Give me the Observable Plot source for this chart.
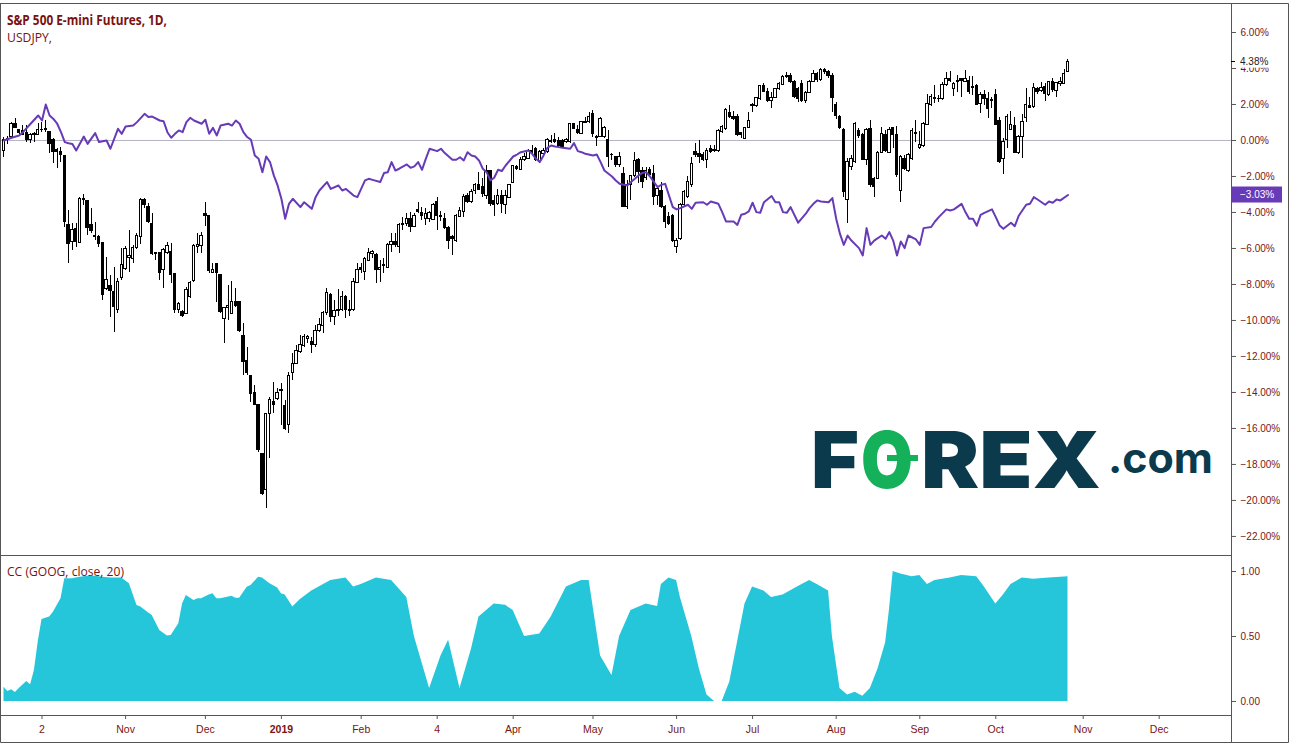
<!DOCTYPE html>
<html><head><meta charset="utf-8">
<script src="https://cdn.jsdelivr.net/npm/d3@7"></script>
<script src="https://cdn.jsdelivr.net/npm/@observablehq/plot@0.6"></script>
<style>
html,body{margin:0;padding:0;background:#fff;overflow:hidden;}
#wrap{position:relative;width:1295px;height:749px;overflow:hidden;background:#fff;}
#wrap svg{display:block;position:absolute;left:0;}
</style></head><body><div id="wrap"></div>
<script>
// ---------- DATA (percent change vs first bar) ----------
const spOpen = [
-0.56,0.0,0.19,0.93,0.59,0.52,0.41,0.0,0.28,0.31,
0.56,0.56,0.46,0.04,-0.52,-0.65,-0.89,-4.67,-5.65,-4.91,
-5.7,-3.3,-3.37,-4.72,-5.28,-5.37,-5.7,-8.24,-8.06,-8.43,
-9.44,-7.65,-7.13,-6.52,-6.57,-5.96,-5.37,-3.33,-3.7,-4.63,
-6.24,-6.24,-7.22,-6.26,-6.2,-7.44,-9.44,-9.54,-9.63,-8.7,
-7.81,-5.93,-5.87,-4.07,-4.22,-7.35,-6.85,-7.5,-9.91,-9.3,
-9.63,-8.96,-9.0,-10.89,-12.26,-13.11,-14.02,-14.72,-17.41,-19.41,
-15.22,-14.54,-14.35,-13.93,-14.78,-15.83,-12.93,-12.41,-11.76,-11.44,
-11.02,-11.2,-11.39,-10.56,-10.3,-9.6,-8.6,-9.8,-9.5,-9.4,
-8.7,-9.4,-9.4,-7.92,-7.09,-7.31,-6.67,-6.29,-6.39,-7.22,
-7.0,-7.07,-5.78,-5.65,-5.93,-4.67,-4.63,-4.35,-4.81,-3.89,
-4.02,-4.35,-4.35,-4.41,-3.43,-4.22,-4.35,-4.85,-5.37,-5.59,
-4.26,-3.98,-3.11,-3.43,-2.78,-2.46,-2.56,-3.06,-1.70,-3.37,
-3.52,-3.06,-3.61,-3.19,-2.37,-1.48,-1.63,-1.11,-1.02,-0.65,
-0.46,-1.15,-0.74,-0.65,-0.09,0.0,-0.04,-0.04,-0.09,-0.09,
0.89,0.59,0.37,0.96,1.02,1.48,0.19,0.19,0.19,0.0,
-0.78,-0.93,-1.39,-1.85,-3.70,-2.5,-2.0,-1.11,-1.70,-2.07,
-1.63,-1.85,-3.06,-2.78,-3.7,-4.26,-4.2,-5.93,-5.46,-3.61,
-3.15,-2.5,-0.65,-0.74,-0.8,-1.06,-0.5,-0.61,-0.56,0.46,
0.65,1.54,1.33,1.30,0.43,0.09,0.69,1.98,1.91,2.28,
3.02,2.72,2.22,2.35,2.87,3.09,3.52,3.57,3.24,2.87,
3.15,2.17,2.65,3.24,3.7,3.35,3.89,3.8,3.57,1.98,
1.30,0.61,-3.33,-1.5,-1.17,0.5,0.28,-1.06,0.65,-2.13,
-2.13,-0.69,0.32,-0.69,0.69,0.28,-2.78,-1.02,-1.67,-1.02,
0.43,-0.43,-0.31,0.87,1.98,2.35,2.28,2.28,3.09,3.39,
2.87,3.24,3.39,3.24,3.28,2.9,3.02,2.04,2.54,2.31,
2.22,2.5,1.06,-1.02,0.0,0.61,0.8,-0.69,0.22,1.24,
1.94,1.85,2.87,2.74,2.96,2.5,3.24,2.74,3.15,3.15,
3.8];
const spHigh = [
0.19,0.2,1.02,1.2,0.6,0.83,0.83,0.37,0.46,0.93,
1.02,1.11,0.46,0.09,-0.46,-0.41,-0.89,-3.89,-4.63,-4.59,
-3.19,-3.0,-3.33,-3.8,-4.54,-5.28,-5.65,-6.48,-7.5,-7.04,
-7.69,-6.02,-5.89,-5.0,-5.83,-5.19,-3.24,-3.24,-3.52,-4.04,
-6.2,-6.2,-6.02,-5.65,-5.7,-7.41,-8.98,-9.44,-8.15,-7.81,
-5.78,-5.19,-5.09,-3.43,-4.19,-6.85,-6.81,-7.44,-9.26,-8.06,
-7.81,-8.24,-8.96,-10.19,-11.52,-13.06,-13.61,-14.69,-17.37,-15.15,
-14.26,-13.43,-13.8,-13.52,-14.44,-12.87,-11.85,-11.39,-10.83,-10.78,
-10.83,-10.93,-10.28,-9.87,-9.5,-8.2,-8.5,-8.9,-8.3,-8.4,
-8.6,-8.9,-7.68,-6.85,-6.85,-6.48,-6.02,-6.11,-6.29,-6.67,
-6.57,-5.74,-5.19,-5.19,-4.59,-4.26,-4.07,-3.98,-4.07,-3.43,
-3.70,-3.80,-3.93,-3.52,-3.19,-3.93,-4.04,-4.78,-5.28,-4.11,
-3.70,-3.0,-2.96,-2.74,-2.37,-1.76,-2.13,-1.39,-1.67,-3.06,
-2.74,-2.78,-2.78,-2.46,-1.39,-1.39,-0.93,-0.74,-0.52,-0.28,
-0.37,-0.56,-0.46,0.09,0.28,0.37,0.19,0.04,0.09,0.96,
0.93,0.83,1.07,1.30,1.57,1.67,0.28,1.26,0.78,0.56,
-0.7,-0.89,-0.65,-1.52,-2.22,-1.94,-0.65,-1.02,-1.48,-1.52,
-1.48,-1.39,-2.59,-2.31,-3.61,-3.98,-4.13,-5.46,-3.52,-2.78,
-1.98,-0.93,-0.19,0.0,-0.65,-0.46,-0.28,-0.28,0.61,0.83,
1.76,1.94,1.61,1.43,0.46,0.74,1.54,2.04,2.41,3.06,
3.15,2.87,2.69,2.91,3.2,3.61,3.8,3.7,3.33,2.96,
3.33,2.72,3.33,3.89,3.8,4.02,4.0,3.89,3.7,2.13,
1.39,0.65,-1.02,-0.83,1.02,0.65,0.37,0.69,1.11,-2.04,
-0.61,0.74,0.56,0.74,0.74,0.8,-0.83,-0.83,-0.74,0.69,
1.11,0.5,1.02,2.54,2.54,3.05,2.5,3.2,3.8,3.83,
3.24,3.61,3.43,3.89,3.57,3.57,3.09,2.69,2.78,2.65,
2.41,2.83,1.3,0.09,1.43,1.61,1.3,0.28,1.43,2.87,
2.41,3.15,2.96,3.24,3.15,3.28,3.46,3.24,3.52,3.94,
4.5];
const spLow = [
-0.93,-0.2,0.09,0.65,0.35,0.28,-0.09,-0.19,-0.09,0.28,
0.46,0.46,-0.74,-1.3,-1.57,-1.2,-4.81,-6.85,-6.11,-5.93,
-5.74,-3.61,-5.28,-5.19,-5.56,-5.93,-8.89,-8.33,-9.81,-10.65,
-9.59,-7.78,-7.22,-7.31,-6.85,-6.07,-5.78,-3.8,-4.59,-6.39,
-6.67,-7.78,-8.24,-6.33,-7.93,-9.63,-9.59,-9.81,-9.67,-8.8,
-7.87,-6.3,-6.26,-4.78,-7.37,-7.41,-9.0,-9.59,-11.3,-10.0,
-9.67,-9.26,-10.65,-13.06,-13.06,-14.54,-14.72,-17.31,-19.72,-20.46,
-17.68,-15.15,-14.44,-15.83,-16.11,-16.3,-13.33,-12.44,-11.85,-11.52,
-11.3,-11.85,-11.48,-10.65,-10.7,-9.7,-10.1,-10.3,-9.8,-9.5,
-9.9,-9.8,-9.5,-7.96,-7.37,-7.78,-6.70,-6.57,-7.92,-7.87,
-7.41,-7.13,-6.2,-5.96,-6.26,-5.0,-4.78,-5.09,-4.85,-4.07,
-4.44,-4.72,-4.54,-4.44,-5.0,-4.48,-4.96,-6.07,-6.39,-5.65,
-4.30,-4.26,-3.52,-3.48,-3.0,-2.78,-3.15,-3.3,-3.67,-4.22,
-3.61,-4.07,-4.11,-3.24,-2.41,-1.67,-1.67,-1.15,-1.07,-0.83,
-1.15,-1.3,-0.83,-0.7,-0.15,-0.15,-0.41,-0.46,-0.15,-0.19,
0.59,0.33,0.33,0.93,0.96,0.19,-0.33,0.15,0.09,-1.48,
-1.11,-1.48,-1.48,-3.70,-3.85,-3.33,-2.07,-2.41,-2.69,-2.22,
-2.04,-3.61,-3.61,-3.8,-4.91,-4.72,-5.65,-6.3,-5.56,-3.7,
-3.2,-2.59,-0.93,-1.3,-1.17,-1.54,-0.74,-0.65,-0.65,0.37,
0.56,1.2,1.11,0.24,0.09,0.06,0.65,1.54,1.85,2.22,
2.65,2.09,1.8,2.31,2.78,3.05,3.46,3.15,2.31,2.13,
2.09,2.04,2.59,3.2,3.2,3.3,3.65,3.46,1.57,1.17,
0.61,-3.15,-4.63,-1.67,-1.3,0.13,-1.11,-1.39,-2.59,-3.15,
-2.17,-0.74,-0.65,-0.74,-0.46,-2.04,-3.43,-1.67,-1.76,-1.11,
-0.09,-0.5,-0.37,0.83,1.91,2.04,2.13,2.22,3.02,3.24,
2.46,2.65,2.41,3.2,2.54,2.5,1.94,1.48,1.94,1.2,
1.8,0.83,-1.3,-1.91,-0.46,0.56,-0.74,-0.8,-1.02,1.02,
1.76,1.8,2.54,2.65,2.17,2.46,2.65,2.41,3.02,3.09,
3.76];
const spClose = [
0.0,0.1,0.93,0.70,0.41,0.33,0.0,0.28,0.37,0.59,
0.59,0.65,-0.19,-0.65,-0.65,-0.83,-4.54,-5.74,-4.96,-5.65,
-3.24,-3.24,-4.85,-5.04,-5.37,-5.74,-8.61,-7.74,-8.39,-9.26,
-7.87,-6.94,-6.02,-6.44,-5.98,-5.28,-3.28,-3.56,-4.54,-6.33,
-6.33,-7.37,-6.11,-5.87,-7.5,-9.44,-9.07,-9.78,-8.33,-7.93,
-5.89,-5.78,-5.28,-4.22,-7.26,-7.22,-7.37,-9.54,-9.3,-9.22,
-8.96,-9.17,-10.59,-12.31,-12.93,-14.07,-14.69,-17.22,-19.67,-15.19,
-14.41,-14.69,-14.04,-13.89,-16.02,-13.11,-12.44,-11.67,-11.39,-10.93,
-10.93,-11.39,-10.56,-10.28,-9.6,-8.5,-9.8,-9.5,-9.4,-8.7,
-9.4,-9.5,-7.87,-7.22,-7.22,-6.57,-6.26,-6.2,-7.18,-7.09,
-6.94,-5.78,-5.65,-5.83,-4.67,-4.63,-4.35,-4.78,-4.17,-3.98,
-4.17,-4.07,-4.04,-3.61,-4.17,-4.26,-4.85,-5.59,-5.46,-4.22,
-3.94,-3.15,-3.43,-2.87,-2.46,-2.74,-3.0,-1.67,-3.52,-3.61,
-3.06,-3.52,-3.11,-2.5,-1.44,-1.57,-1.11,-0.93,-0.56,-0.56,
-1.11,-0.65,-0.56,0.0,-0.04,-0.09,-0.33,-0.37,0.0,0.93,
0.65,0.41,1.02,1.02,1.30,0.37,0.15,1.20,0.7,-0.93,
-0.83,-1.39,-0.93,-3.67,-2.5,-2.0,-1.15,-1.76,-2.31,-1.67,
-1.94,-3.15,-2.69,-3.7,-4.54,-4.63,-5.56,-5.61,-3.61,-2.87,
-2.31,-1.30,-0.83,-0.93,-1.06,-0.61,-0.65,-0.52,0.5,0.74,
1.67,1.30,1.2,0.32,0.28,0.69,1.11,1.91,2.35,3.02,
2.72,2.22,2.35,2.87,3.15,3.52,3.57,3.24,2.41,2.31,
2.17,2.65,3.24,3.7,3.35,3.89,3.83,3.57,2.35,1.35,
0.69,-2.87,-1.2,-1.02,0.93,0.24,-1.06,0.61,-2.5,-2.59,
-0.69,0.37,-0.56,0.61,0.32,-1.94,-0.93,-1.57,-0.83,0.5,
0.37,-0.24,0.93,2.04,2.41,2.28,2.31,3.09,3.39,3.28,
3.15,3.33,3.28,3.39,2.69,2.95,1.98,2.54,2.31,1.76,
2.26,0.87,-1.17,-0.06,1.3,0.87,-0.69,0.22,1.02,1.98,
1.8,2.91,2.69,2.93,2.59,3.24,2.78,3.2,3.24,3.7,
4.38];

// USDJPY % change, (bar index, value) vertices
const jpyBar = [0,2,4,5,7,9,10,11,12,13,14,15,16,17,18,19,21,22,24,25,27,28,30,31,32,34,35,37,38,39,41,42,43,44,45,46,47,48,49,50,52,53,54,55,56,57,59,60,61,62,63,64,65,66,67,68,69,70,71,72,73,74,75,76,78,79,81,82,83,85,86,88,89,90,92,93,95,96,97,99,100,101,102,103,104,106,107,108,109,110,111,112,114,115,116,118,119,120,121,122,123,124,125,126,127,128,129,130,131,132,134,135,136,138,139,140,141,142,143,144,145,146,147,149,150,151,152,153,155,156,157,158,160,161,162,164,165,166,167,168,169,170,172,173,174,176,177,178,180,181,182,184,185,186,188,189,190,192,193,194,195,196,197,198,199,200,202,203,204,205,206,207,209,211,212,213,214,215,217,218,219,220,221,222,223,225,226,227,228,229,231,232,233,234,235,236,237,238,240,241,242,244,245,246,248,249,250,252,253,254,255,256,257,258,260,261,262,263,265,266,267,269,270,271,272,274,275,276,277,278,280];
const jpyPct = [0.0,0.15,0.28,0.46,0.93,1.39,1.11,2.0,1.39,1.2,0.93,0.46,-0.09,-0.15,-0.19,-0.56,0.22,-0.19,0.41,-0.09,0.0,-0.46,0.65,0.37,0.78,0.83,1.02,1.48,1.30,1.33,1.11,1.07,0.46,0.15,0.37,0.56,0.46,1.02,1.26,1.11,0.93,1.15,0.37,0.70,0.28,0.83,0.93,0.83,1.11,0.93,0.46,0.19,0.04,-0.83,-1.02,-1.76,-0.89,-1.2,-1.94,-2.5,-3.24,-4.35,-3.52,-3.24,-3.7,-3.43,-3.8,-3.15,-2.78,-2.31,-2.69,-2.5,-2.78,-2.69,-3.06,-3.15,-2.22,-2.13,-2.19,-2.31,-1.81,-1.76,-1.2,-1.67,-1.57,-1.33,-1.52,-1.44,-1.2,-1.63,-1.02,-0.46,-0.59,-0.46,-0.7,-1.07,-1.07,-0.93,-1.11,-0.65,-0.83,-0.89,-1.11,-1.57,-1.76,-2.22,-2.07,-1.63,-1.7,-1.39,-0.89,-0.78,-0.65,-0.56,-0.74,-1.02,-1.2,-0.83,-0.41,-0.28,-0.33,-0.37,-0.41,-0.46,-0.15,-0.59,-0.65,-0.74,-0.83,-0.78,-1.2,-1.67,-2.0,-2.22,-2.41,-2.5,-2.31,-2.13,-1.94,-1.8,-1.76,-2.0,-2.59,-2.46,-2.41,-3.7,-3.83,-3.76,-3.57,-3.8,-3.46,-3.43,-3.57,-3.39,-3.52,-3.98,-4.5,-4.5,-4.69,-4.13,-4.07,-3.94,-3.46,-3.98,-4.02,-3.43,-3.09,-3.43,-3.43,-3.98,-4.02,-3.7,-4.57,-4.07,-3.76,-3.52,-3.33,-3.39,-3.43,-3.2,-4.35,-5.19,-5.8,-5.28,-5.56,-5.98,-6.39,-4.87,-5.8,-5.56,-5.28,-5.46,-5.09,-5.56,-6.39,-5.61,-5.98,-5.28,-5.5,-5.8,-4.87,-4.81,-4.5,-4.26,-3.83,-3.89,-3.83,-3.52,-3.98,-4.35,-4.35,-4.74,-4.13,-4.02,-3.83,-4.26,-4.72,-4.91,-4.57,-4.76,-4.2,-3.57,-3.52,-3.15,-3.28,-3.57,-3.39,-3.46,-3.28,-3.33,-3.03];

// CC (GOOG, close, 20) correlation coefficient, (bar index, value) vertices
const ccBar = [0,1,2,3,4,6,7,8,9,10,12,13,15,16,18,20,22,24,26,28,31,33,35,36,38,39,41,43,44,46,47,48,50,51,52,54,55,56,57,60,61,62,64,65,67,68,70,72,73,74,76,78,81,86,90,92,94,98,102,106,108,112,115,117,120,123,125,129,132,134,137,141,144,148,152,154,157,160,162,165,169,172,173,175,177,178,181,183,185,187,189,191,193,195,197,200,202,205,210,212,214,217,218,220,222,224,226,228,230,232,233,234,236,239,241,243,245,249,252,256,258,261,263,265,268,271,275,280];
const ccVal = [0.11,0.077,0.09,0.068,0.10,0.154,0.128,0.238,0.456,0.63,0.649,0.687,0.79,0.944,0.944,0.956,0.964,0.964,0.956,0.949,0.949,0.905,0.738,0.726,0.682,0.662,0.546,0.503,0.508,0.597,0.751,0.815,0.777,0.79,0.79,0.82,0.828,0.79,0.79,0.81,0.795,0.795,0.879,0.892,0.956,0.949,0.905,0.872,0.828,0.82,0.726,0.785,0.85,0.93,0.95,0.88,0.9,0.95,0.93,0.8,0.5,0.1,0.35,0.47,0.1,0.4,0.65,0.75,0.74,0.7,0.5,0.52,0.65,0.88,0.93,0.93,0.35,0.2,0.5,0.7,0.75,0.73,0.9,0.95,0.93,0.8,0.5,0.25,0.05,0.0,0.0,0.15,0.45,0.75,0.88,0.85,0.8,0.82,0.9,0.93,0.9,0.85,0.5,0.1,0.05,0.07,0.04,0.1,0.25,0.45,0.7,1.0,0.98,0.96,0.97,0.9,0.93,0.95,0.97,0.96,0.88,0.75,0.82,0.9,0.95,0.94,0.95,0.96];

// axis ticks and labels
const pctTicks = [-22,-20,-18,-16,-14,-12,-10,-8,-6,-4,-2,0,2,4,6];
const ccTicks = [0, 0.5, 1];
const timeTickBars = [10,32,53,73,94,114,134,155,177,197,219,241,261,284,304];
const timeTickLabels = ["2","Nov","Dec","2019","Feb","4","Apr","May","Jun","Jul","Aug","Sep","Oct","Nov","Dec"];
const titleMain = "S&P 500 E-mini Futures, 1D,";
const titleSub = "USDJPY,";
const ccTitle = "CC (GOOG, close, 20)";

// ---------- RENDER ----------
const X_DOMAIN = [-0.921, 323.03];
const AXIS_COLOR = "#7a1414";
const LINE = "#555";
const FONT = "'Liberation Sans', Arial, sans-serif";
const fmtPct = d => (d < 0 ? "\u2212" : "") + Math.abs(d).toFixed(2) + "%";

const candles = spClose.map((c, i) => ({i, o: spOpen[i], h: spHigh[i], l: spLow[i], c}));
const jpy = jpyBar.map((b, k) => ({i: b, v: jpyPct[k]}));
const cc = ccBar.map((b, k) => ({i: b, v: ccVal[k]}));
const lab = d => timeTickLabels[timeTickBars.indexOf(d)];
const isYear = d => /^\d{4}$/.test(lab(d));

const wrap = document.getElementById("wrap");

const main = Plot.plot({
  width: 1295, height: 555,
  marginTop: 3, marginBottom: 0, marginLeft: 0, marginRight: 64,
  style: {background: "transparent", overflow: "visible", fontFamily: FONT},
  x: {domain: X_DOMAIN, axis: null},
  y: {domain: [-23.06, 7.611], axis: null},
  marks: [
    Plot.ruleY([0], {stroke: "#b4b2c4", strokeWidth: 1}),
    Plot.ruleX(candles, {x: "i", y1: "l", y2: "h", stroke: "#000", strokeWidth: 1, shapeRendering: "crispEdges"}),
    Plot.rect(candles, {filter: d => d.c >= d.o, x1: d => d.i - 0.3, x2: d => d.i + 0.3, y1: "o", y2: "c", fill: "#fff", stroke: "#000", strokeWidth: 1, shapeRendering: "crispEdges"}),
    Plot.rect(candles, {filter: d => d.c < d.o, x1: d => d.i - 0.3, x2: d => d.i + 0.3, y1: "o", y2: "c", fill: "#000", stroke: "#000", strokeWidth: 1, shapeRendering: "crispEdges"}),
    Plot.line(jpy, {x: "i", y: "v", stroke: "#673ab7", strokeWidth: 2}),
    Plot.axisY({anchor: "right", ticks: pctTicks, tickSize: 4, tickPadding: 5, tickFormat: fmtPct, stroke: LINE, fill: AXIS_COLOR, fontSize: 10, label: null}),
    Plot.frame({stroke: LINE})
  ]
});
main.style.top = "0px";
wrap.appendChild(main);

const lower = Plot.plot({
  width: 1295, height: 187,
  marginTop: 0, marginBottom: 27, marginLeft: 0, marginRight: 64,
  style: {background: "transparent", overflow: "visible", fontFamily: FONT},
  x: {domain: X_DOMAIN, axis: null},
  y: {domain: [-0.108, 1.123], axis: null},
  marks: [
    Plot.areaY(cc, {x: "i", y: "v", fill: "#26c6da"}),
    Plot.axisY({anchor: "right", ticks: ccTicks, tickSize: 4, tickPadding: 5, tickFormat: d => d.toFixed(2), stroke: LINE, fill: AXIS_COLOR, fontSize: 10, label: null}),
    Plot.axisX({anchor: "bottom", ticks: timeTickBars.filter(d => !isYear(d)), tickSize: 4, tickPadding: 6, tickFormat: lab, stroke: LINE, fill: AXIS_COLOR, fontSize: 10.5, label: null}),
    Plot.axisX({anchor: "bottom", ticks: timeTickBars.filter(isYear), tickSize: 4, tickPadding: 6, tickFormat: lab, stroke: LINE, fill: AXIS_COLOR, fontSize: 10.5, fontWeight: "bold", label: null}),
    Plot.frame({stroke: LINE})
  ]
});
lower.style.top = "555px";
wrap.appendChild(lower);

// ---------- overlay: frame, titles, last-value labels, watermark ----------
const ov = d3.select(wrap).append("svg").attr("width", 1295).attr("height", 749)
  .style("top", "0px").style("pointer-events", "none");

// outer chart border and price-scale column
ov.append("path").attr("fill", "none").attr("stroke", LINE).attr("stroke-width", 1)
  .attr("d", "M0.5,3.5H1288.5V742.5H0.5Z M1231.5,715V742");

// titles
ov.append("text").attr("x", 7).attr("y", 25).attr("fill", "#7a1111")
  .attr("font-family", "'Open Sans', 'Liberation Sans', sans-serif").attr("font-weight", 700).attr("font-size", 14)
  .attr("textLength", 160).attr("lengthAdjust", "spacingAndGlyphs").text(titleMain);
ov.append("text").attr("x", 7).attr("y", 42).attr("fill", "#7a1111")
  .attr("font-family", "'Open Sans', 'Liberation Sans', sans-serif").attr("font-size", 13)
  .attr("textLength", 45).attr("lengthAdjust", "spacingAndGlyphs").text(titleSub);
ov.append("text").attr("x", 7).attr("y", 576).attr("fill", "#7a1111")
  .attr("font-family", "'Open Sans', 'Liberation Sans', sans-serif").attr("font-size", 12)
  .attr("textLength", 117).attr("lengthAdjust", "spacingAndGlyphs").text(ccTitle);

// last value labels on the price scale
const ys = main.scale("y");
const lastSp = spClose[spClose.length - 1];
const lastJpy = jpyPct[jpyPct.length - 1];
{
  const y = ys.apply(lastSp);
  ov.append("rect").attr("x", 1236).attr("y", y - 6.5).attr("width", 50).attr("height", 13).attr("fill", "#fff");
  ov.append("line").attr("x1", 1231).attr("x2", 1235).attr("y1", Math.round(y) + 0.5).attr("y2", Math.round(y) + 0.5).attr("stroke", "#000");
  ov.append("text").attr("x", 1240).attr("y", y).attr("dy", "0.35em").attr("fill", "#222")
    .attr("font-family", FONT).attr("font-size", 10).text(fmtPct(lastSp));
}
{
  const y = ys.apply(lastJpy);
  ov.append("rect").attr("x", 1231).attr("y", y - 8).attr("width", 51).attr("height", 16).attr("fill", "#673ab7");
  ov.append("text").attr("x", 1240).attr("y", y).attr("dy", "0.35em").attr("fill", "#fff")
    .attr("font-family", FONT).attr("font-size", 10).text(fmtPct(lastJpy));
}

// FOREX.com watermark
const TEAL = "#0b3a4d", GREEN = "#14b05a";
const wm = ov.append("g").attr("font-family", "Inter, 'Open Sans', sans-serif").attr("font-weight", 900).attr("font-size", 79);
const pieces = [["F", 811, 48, TEAL], ["O", 861, 52, GREEN], ["REX", 921, 180, TEAL]];
for (const [s, x, w, col] of pieces) {
  wm.append("text").attr("x", x).attr("y", 488).attr("fill", col)
    .attr("textLength", w).attr("lengthAdjust", "spacingAndGlyphs").text(s);
}
// currency bar on the green O
wm.append("rect").attr("x", 887).attr("y", 455).attr("width", 31).attr("height", 6).attr("fill", GREEN);
wm.append("text").attr("x", 1108).attr("y", 473).attr("font-size", 42).attr("font-weight", 700)
  .attr("fill", TEAL).attr("textLength", 105).attr("lengthAdjust", "spacingAndGlyphs").text(".com");
</script></body></html>
